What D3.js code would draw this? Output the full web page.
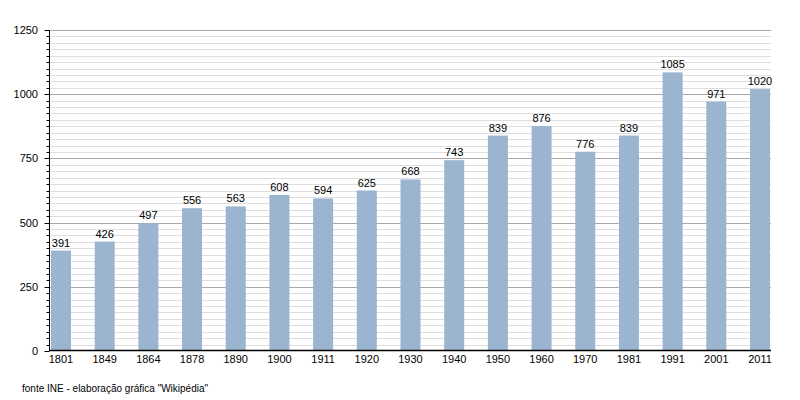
<!DOCTYPE html>
<html><head><meta charset="utf-8">
<script src="https://cdn.jsdelivr.net/npm/d3@7"></script>
<style>body{margin:0;background:#fff}svg{display:block}text{font-family:"Liberation Sans",Arial,sans-serif;fill:#000}</style>
</head><body><svg width="800" height="400"></svg>
<script>
const years = ["1801","1849","1864","1878","1890","1900","1911","1920","1930","1940","1950","1960","1970","1981","1991","2001","2011"];
const population = [391,426,497,556,563,608,594,625,668,743,839,876,776,839,1085,971,1020];
const majorTicks = [0,250,500,750,1000,1250];
const minorTicks = d3.range(0,1251,25);
const note = "fonte INE - elaboração gráfica \"Wikipédia\"";

const svg = d3.select("svg");
const x0 = 49.5, x1 = 771;
const x = d3.scaleBand().domain(years).range([51,770]).paddingInner(0.542).paddingOuter(0);
const y = d3.scaleLinear().domain([0,1250]).range([351,30]);

// minor gridlines
svg.append("g").selectAll("line").data(minorTicks.filter(d=>d%250!==0)).join("line")
  .attr("x1",x0).attr("x2",x1).attr("y1",d=>Math.round(y(d))+0.5).attr("y2",d=>Math.round(y(d))+0.5)
  .attr("stroke","#dedede").attr("stroke-width",1);
// major gridlines
svg.append("g").selectAll("line").data(majorTicks.filter(d=>d>0)).join("line")
  .attr("x1",x0).attr("x2",x1).attr("y1",d=>Math.round(y(d))+0.5).attr("y2",d=>Math.round(y(d))+0.5)
  .attr("stroke","#a8a8a8").attr("stroke-width",1);

// bars
svg.append("g").selectAll("rect").data(population).join("rect")
  .attr("x",(d,i)=>x(years[i])).attr("width",x.bandwidth())
  .attr("y",d=>y(d)).attr("height",d=>y(0)-y(d))
  .attr("fill","#9bb4cf");

// value labels
svg.append("g").selectAll("text").data(population).join("text")
  .attr("x",(d,i)=>x(years[i])+x.bandwidth()/2).attr("y",d=>y(d)-4)
  .attr("text-anchor","middle").attr("font-size",11).text(d=>d);

// y axis
const yAxis = svg.append("g");
yAxis.append("line").attr("x1",x0).attr("x2",x0).attr("y1",y(1250)).attr("y2",y(0)).attr("stroke","#000");
yAxis.selectAll("line.minor").data(minorTicks).join("line").attr("class","minor")
  .attr("x1",d=>d%250===0?x0-5:x0-3).attr("x2",x0).attr("y1",d=>Math.round(y(d))+0.5).attr("y2",d=>Math.round(y(d))+0.5)
  .attr("stroke","#000");
yAxis.selectAll("text").data(majorTicks).join("text")
  .attr("x",38).attr("y",d=>y(d)+4).attr("text-anchor","end").attr("font-size",11).text(d=>d);

// x axis
svg.append("line").attr("x1",x0).attr("x2",x1).attr("y1",y(0)-0.5).attr("y2",y(0)-0.5).attr("stroke","#000").attr("stroke-width",1.5);
svg.append("g").selectAll("text").data(years).join("text")
  .attr("x",d=>x(d)+x.bandwidth()/2).attr("y",y(0)+12).attr("text-anchor","middle").attr("font-size",11).text(d=>d);

svg.append("text").attr("x",22).attr("y",392).attr("font-size",10).text(note);
</script></body></html>
